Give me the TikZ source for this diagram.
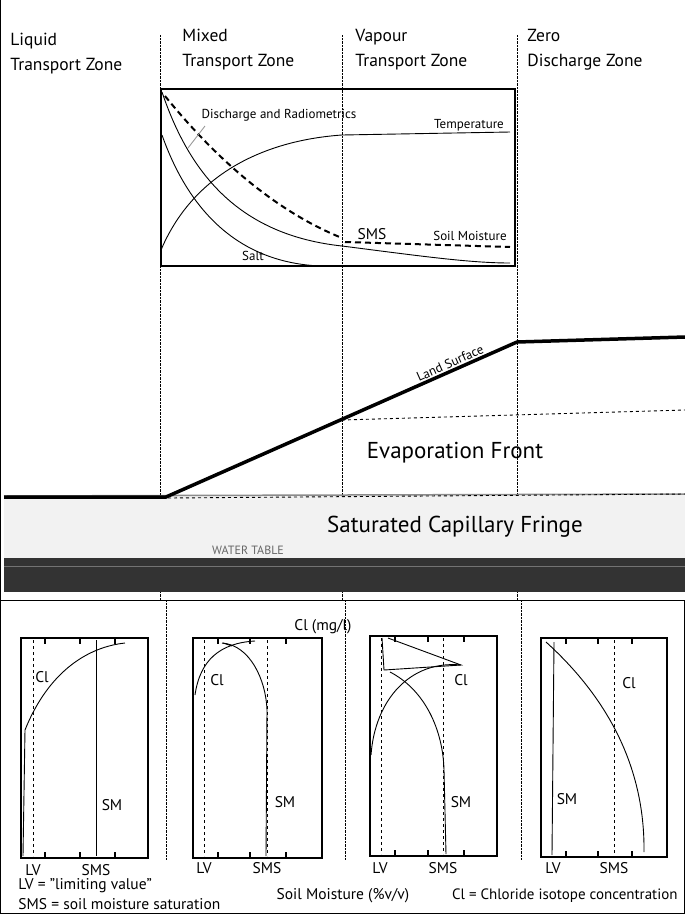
\documentclass[tikz,border=0pt]{standalone}
\usepackage{fontspec}
\setmainfont{PT Sans}
\usetikzlibrary{positioning}
\tikzset{
  zonelabel/.style={anchor=north west, align=left, font=\fontsize{17.5}{25}\selectfont, inner sep=0pt},
  zoneline/.style={densely dotted, thin},
  panelbox/.style={draw, line width=1.9pt},
  curvelabel/.style={font=\fontsize{13}{15}\selectfont, inner sep=1pt},
  axlabel/.style={font=\fontsize{15.5}{18}\selectfont, inner sep=1pt},
  bigtext/.style={font=\fontsize{23}{26}\selectfont},
  tickmark/.style={line width=1.9pt},
  thickdash/.style={dash pattern=on 6pt off 4pt, line width=2pt},
}
\begin{document}
\begin{tikzpicture}[x=1pt,y=-1pt,line width=0.9pt]
  \useasboundingbox (0,0) rectangle (685,914);
  \draw[line width=1pt] (0.5,600) rectangle (684.5,913.5);
  \draw[line width=1pt] (0.5,0) -- (0.5,600);

  % zone titles
  \node[zonelabel] (liquid) at (10,33) {Liquid\\Transport Zone};
  \node[zonelabel] (mixed) at (182,29) {Mixed\\Transport Zone};
  \node[zonelabel] (vapour) at (355,29) {Vapour\\Transport Zone};
  \node[zonelabel] (zero) at (527,29) {Zero\\Discharge Zone};

  % zone boundaries
  \foreach \x in {160,342,517} {
    \draw[zoneline] (\x,35) -- (\x,600);
  }
  \foreach \x in {166,345,521} {
    \draw[zoneline] (\x,600) -- (\x,860);
  }

  % capillary fringe and water table
  \fill[black!5] (4,495) rectangle (685,558);
  \draw[black!45, line width=1.5pt] (4,496) -- (685,494);
  \fill[black!80] (4,558) rectangle (685,592);
  \draw[black!55] (4,566) -- (685,566);
  \node[bigtext] (fringe) at (455,527) {Saturated Capillary Fringe};
  \node[font=\fontsize{12}{13}\selectfont, text=black!60] (wt) at (248,550) {WATER TABLE};

  % land surface and fronts
  \coordinate (ls0) at (4,497);
  \coordinate (ls1) at (166,497);
  \coordinate (ls2) at (517,342);
  \coordinate (ls3) at (685,337);
  \draw[line width=3.5pt] (ls0) -- (ls1) -- (ls2) -- (ls3);
  \node[curvelabel, rotate=24] (land) at (450,363) {Land Surface};
  \draw[dashed] (342,420) -- (685,410);
  \draw[dashed] (168,498) -- (685,494);
  \node[bigtext] (evap) at (455,453) {Evaporation Front};

  % top graph
  \draw[panelbox] (161,89) rectangle (515,266);
  \draw (161,250) .. controls (195,170) and (270,140) .. (342,135) -- (510,132);
  \draw (162,92) .. controls (190,175) and (240,235) .. (342,246) .. controls (420,256) and (470,263) .. (510,263);
  \draw (162,135) .. controls (185,200) and (230,262) .. (320,266);
  \draw[thickdash] (165,96) .. controls (225,170) and (285,215) .. (342,238);
  \draw[thickdash] (345,242) -- (510,247);
  \node[curvelabel] (disch) at (279,115) {Discharge and Radiometrics};
  \draw[black!40] (205,126) -- (188,148);
  \node[curvelabel] (temp) at (469,125) {Temperature};
  \node[axlabel] (sms) at (372,234) {SMS};
  \node[curvelabel] (soilm) at (470,236) {Soil Moisture};
  \node[curvelabel] (salt) at (253,256) {Salt};

  % panel 1
  \draw[panelbox] (21,638) rectangle (148,858);
  \foreach \x in {45,80,115} {
    \draw[tickmark] (\x,638) -- (\x,644);
    \draw[tickmark] (\x,858) -- (\x,852);
  }
  \draw[dashed] (33,640) -- (33,856);
  \draw (96,640) -- (96,856);
  \draw (23,856) -- (25,730) .. controls (45,680) and (80,648) .. (125,643);
  \node[axlabel] (cl1) at (42,677) {Cl};
  \node[axlabel] (sm1) at (112,805) {SM};
  \node[axlabel] (lv1) at (33,870) {LV};
  \node[axlabel] (sms1) at (96,870) {SMS};
  \node[axlabel, anchor=west] (lvdef) at (17,886) {LV = "limiting value"};
  \node[axlabel, anchor=west] (smsdef) at (17,904) {SMS = soil moisture saturation};

  % panel 2
  \draw[panelbox] (193,638) rectangle (322,858);
  \foreach \x in {218,250,286} {
    \draw[tickmark] (\x,638) -- (\x,644);
    \draw[tickmark] (\x,858) -- (\x,852);
  }
  \draw[dashed] (204,640) -- (204,856);
  \draw[dashed] (267,640) -- (267,856);
  \draw (195,695) .. controls (200,660) and (220,643) .. (255,641);
  \draw (223,643) -- (232,646);
  \draw (222,643) .. controls (250,645) and (266,680) .. (267,710) -- (266,856);
  \node[axlabel] (cl2) at (217,680) {Cl};
  \node[axlabel] (sm2) at (285,802) {SM};
  \node[axlabel] (lv2) at (204,868) {LV};
  \node[axlabel] (sms2) at (267,868) {SMS};

  % panel 3
  \draw[panelbox] (370,636) rectangle (497,856);
  \foreach \x in {395,428,464} {
    \draw[tickmark] (\x,636) -- (\x,642);
    \draw[tickmark] (\x,856) -- (\x,850);
  }
  \draw[dashed] (381,638) -- (381,854);
  \draw[dashed] (443,638) -- (443,854);
  \draw (382,638) -- (384,670) -- (461,665) -- (388,638);
  \draw (461,665) .. controls (410,660) and (375,700) .. (371,755);
  \draw (390,672) .. controls (425,690) and (443,730) .. (444,770) -- (446,854);
  \node[axlabel] (cl3) at (461,680) {Cl};
  \node[axlabel] (sm3) at (461,802) {SM};
  \node[axlabel] (lv3) at (380,868) {LV};
  \node[axlabel] (sms3) at (443,868) {SMS};
  \node[axlabel] (clunit) at (323,627) {Cl (mg/l)};
  \node[axlabel] (smunit) at (343,896) {Soil Moisture (\%v/v)};
  \node[axlabel, anchor=east, font=\fontsize{15}{18}\selectfont] (cldef) at (679,896) {Cl = Chloride isotope concentration};

  % panel 4
  \draw[panelbox] (541,638) rectangle (667,857);
  \foreach \x in {566,598,632} {
    \draw[tickmark] (\x,638) -- (\x,644);
    \draw[tickmark] (\x,857) -- (\x,851);
  }
  \draw (554,642) -- (552,855);
  \draw[dashed] (614,640) -- (614,855);
  \draw (546,642) .. controls (610,700) and (645,770) .. (644,852);
  \node[axlabel] (cl4) at (629,683) {Cl};
  \node[axlabel] (sm4) at (567,799) {SM};
  \node[axlabel] (lv4) at (553,868) {LV};
  \node[axlabel] (sms4) at (614,868) {SMS};
\end{tikzpicture}
\end{document}
